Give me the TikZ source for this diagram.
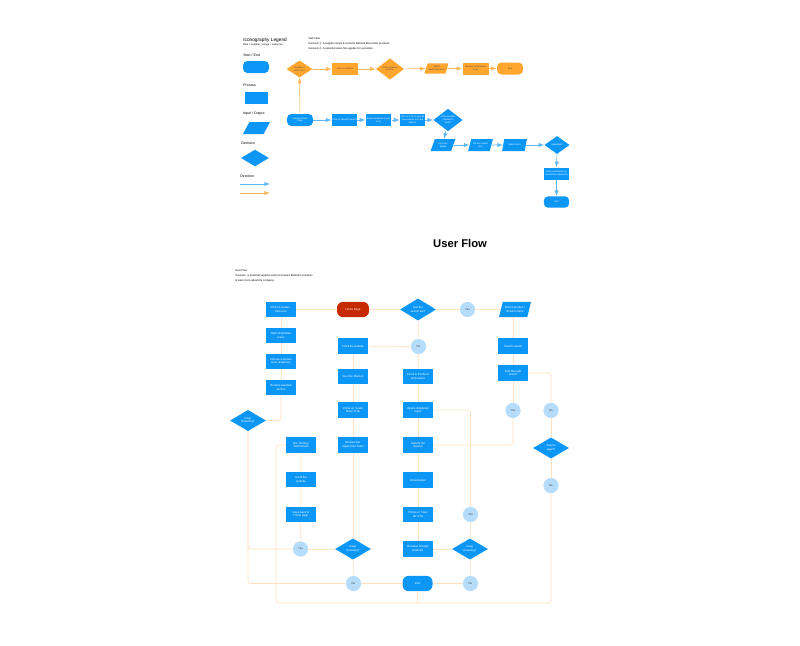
\documentclass[tikz,border=0pt]{standalone}
\usepackage{fontspec}
\setmainfont{Liberation Sans}
\usetikzlibrary{shapes.geometric, arrows, positioning, calc}

\definecolor{flowblue}{HTML}{0C97F7}
\definecolor{floworange}{HTML}{FFA62E}
\definecolor{homered}{HTML}{C62A02}
\definecolor{answer}{HTML}{B6DCFB}
\definecolor{peach}{HTML}{FFE1BE}
\definecolor{bluelink}{HTML}{5DB6F8}
\definecolor{orangelink}{HTML}{FFC27A}

\newcommand{\boxfont}{\fontsize{2}{2.5}\selectfont}
\newcommand{\smallfont}{\fontsize{1.6}{2}\selectfont}

\begin{document}
\begin{tikzpicture}[x=0.025cm, y=-0.025cm, >=latex,
    proc/.style={rectangle, fill=flowblue, text=white, minimum width=0.75cm, minimum height=0.38cm, inner sep=0.5pt, align=center, font=\boxfont},
    term/.style={rectangle, rounded corners=1.5mm, fill=flowblue, text=white, minimum width=0.75cm, minimum height=0.38cm, inner sep=0.5pt, align=center, font=\boxfont},
    dec/.style={diamond, fill=flowblue, text=white, minimum width=0.9cm, minimum height=0.53cm, inner sep=0.3pt, align=center, font=\boxfont},
    io/.style={trapezium, trapezium left angle=65, trapezium right angle=115, trapezium stretches=true, fill=flowblue, text=white, minimum width=0.8cm, minimum height=0.38cm, inner sep=0.5pt, align=center, font=\boxfont},
    ans/.style={circle, fill=answer, text=black!75, minimum size=0.38cm, inner sep=0pt, font=\boxfont},
    link/.style={draw=peach, line width=0.5pt, rounded corners=2pt},
    bluearrow/.style={->, draw=bluelink, line width=0.4pt},
    orangearrow/.style={->, draw=floworange!80, line width=0.4pt},
    orangenode/.style={fill=floworange, text=black!70, font=\smallfont}]

    \useasboundingbox[fill=white] (0,0) rectangle (800,645);

    % legend
    \node[anchor=west, inner sep=0pt, font=\fontsize{3.4}{4}\selectfont] (legtitle) at (243,40) {Iconography Legend};
    \node[anchor=west, inner sep=0pt, font=\fontsize{1.8}{2.2}\selectfont] (legsub) at (243,45) {Blue = supplier, orange = sales hire};
    \node[anchor=west, inner sep=0pt, font=\fontsize{2.5}{3}\selectfont] (legterm) at (243,55) {Start / End};
    \node[term, minimum width=0.65cm, minimum height=0.3cm, rounded corners=1.1mm] (termicon) at (256,67) {};
    \node[anchor=west, inner sep=0pt, font=\fontsize{2.5}{3}\selectfont] (legproc) at (243,85) {Process};
    \node[proc, minimum width=0.58cm, minimum height=0.3cm] (procicon) at (256.5,98) {};
    \node[anchor=west, inner sep=0pt, font=\fontsize{2.5}{3}\selectfont] (legio) at (243,114) {Input / Output};
    \node[io, minimum width=0.68cm, minimum height=0.3cm] (ioicon) at (256.5,128) {};
    \node[anchor=west, inner sep=0pt, font=\fontsize{2.5}{3}\selectfont] (legdec) at (241,143) {Decision};
    \node[dec, minimum width=0.7cm, minimum height=0.42cm] (decicon) at (255,158) {};
    \node[anchor=west, inner sep=0pt, font=\fontsize{2.5}{3}\selectfont] (legdir) at (240,176) {Direction};
    \coordinate (dirblueA) at (240,184);
    \coordinate (dirblueB) at (270,184);
    \coordinate (dirorangeA) at (240,193);
    \coordinate (dirorangeB) at (270,193);
    \draw[bluearrow] (dirblueA) -- (dirblueB);
    \draw[orangearrow] (dirorangeA) -- (dirorangeB);

    % task flow
    \node[anchor=west, inner sep=0pt, align=left, font=\fontsize{1.9}{3.6}\selectfont] (tasktext) at (308,44)
        {Task Flow\\Scenario 1: A supplier views \& contacts Bahnek about their products.\\Scenario 2: A potential sales hire applies for a position.};

    % orange row
    \node[dec, orangenode, minimum width=0.65cm, minimum height=0.4cm] (osales) at (299.5,69) {Supplier or\\sales hire?};
    \node[proc, orangenode, minimum width=0.65cm, minimum height=0.3cm] (ocareers) at (345,69) {Click on Careers};
    \node[dec, orangenode, minimum width=0.7cm, minimum height=0.45cm] (oposition) at (390,69) {Find a relevant\\position};
    \node[io, orangenode, minimum width=0.6cm, minimum height=0.26cm] (osubmit) at (436.5,68.5) {Submit\\application form};
    \node[proc, orangenode, minimum width=0.65cm, minimum height=0.3cm] (oconfirm) at (475.5,68.5) {Receive confirmation\\email};
    \node[term, orangenode, minimum width=0.65cm, minimum height=0.3cm, rounded corners=1.1mm] (oend) at (510,68.5) {End};
    \draw[orangearrow] (osales) -- (ocareers);
    \draw[orangearrow] (ocareers) -- (oposition);
    \draw[orangearrow] (oposition) -- (osubmit);
    \draw[orangearrow] (osubmit) -- (oconfirm);
    \draw[orangearrow] (oconfirm) -- (oend);

    % blue row
    \node[term, font=\smallfont, minimum width=0.65cm, minimum height=0.3cm, rounded corners=1.1mm] (bstart) at (300,120) {Land on Home\\Page};
    \node[proc, font=\smallfont, minimum width=0.63cm, minimum height=0.3cm] (babout) at (344.5,120) {Click on About/Products};
    \node[proc, font=\smallfont, minimum width=0.63cm, minimum height=0.3cm] (bbrowse) at (378.5,120) {Browse products \& solu-\\tions};
    \node[proc, font=\smallfont, minimum width=0.63cm, minimum height=0.3cm] (bcta) at (412.5,120) {Click on CTA to view all\\the products from the\\division};
    \node[dec, font=\smallfont, minimum width=0.73cm, minimum height=0.5cm] (brelevant) at (448,120) {Is the product\\relevant to\\them?};
    \node[io, font=\smallfont, minimum width=0.62cm, minimum height=0.3cm] (bdetails) at (443,145) {Fill in the\\details};
    \node[io, font=\smallfont, minimum width=0.62cm, minimum height=0.3cm] (bform) at (480.5,145) {Fill the contact\\form};
    \node[io, font=\smallfont, minimum width=0.62cm, minimum height=0.3cm] (bsend) at (514.5,145) {Submit form};
    \node[dec, font=\smallfont, minimum width=0.63cm, minimum height=0.45cm] (bsubmitted) at (557,145) {Submitted?};
    \node[proc, font=\smallfont, minimum width=0.63cm, minimum height=0.3cm] (bconfirm) at (556.5,173.5) {Gets confirmation on\\successful submission};
    \node[term, font=\smallfont, minimum width=0.63cm, minimum height=0.28cm, rounded corners=1mm] (bend) at (556.5,202) {End};
    \draw[orangearrow] (bstart) -- (osales);
    \draw[bluearrow] (bstart) -- (babout);
    \draw[bluearrow] (babout) -- (bbrowse);
    \draw[bluearrow] (bbrowse) -- (bcta);
    \draw[bluearrow] (bcta) -- (brelevant);
    \draw[bluearrow] (brelevant) -- (bdetails);
    \draw[bluearrow] (bdetails) -- (bform);
    \draw[bluearrow] (bform) -- (bsend);
    \draw[bluearrow] (bsend) -- (bsubmitted);
    \draw[bluearrow] (bsubmitted) -- (bconfirm);
    \draw[bluearrow] (bconfirm) -- (bend);

    % user flow
    \node[inner sep=0pt, font=\fontsize{8}{9}\selectfont\bfseries] (title) at (460,243) {User Flow};
    \node[anchor=west, inner sep=0pt, align=left, font=\fontsize{1.9}{3.6}\selectfont] (usertext) at (235,276)
        {User Flow\\Scenario: a potential supplier wants to browse Bahnek's products\\\& learn more about the company.};

    \node[term, fill=homered, minimum width=0.8cm] (home) at (353,309.5) {Home Page};
    \node[proc] (header) at (281,309.5) {Click on header -\\About Us};
    \node[dec] (usesearch) at (418,309.5) {Use the\\search bar?};
    \node[ans] (yessearch) at (467.5,309.5) {Yes};
    \node[io] (enters) at (515,309.5) {Enters product /\\division name};
    \node[proc] (dropdown) at (281,335.5) {Open dropdown\\menu};
    \node[proc] (choose) at (281,361.5) {Choose a section\\from dropdown};
    \node[proc] (browsesel) at (281,387.5) {Browse selected\\section};
    \node[dec] (keepone) at (248,420.5) {Keep\\browsing?};
    \node[proc] (scrollone) at (353,346) {Scroll the website};
    \node[ans] (nosearch) at (418.5,346.5) {No};
    \node[proc] (mission) at (353,376.5) {See Our Mission};
    \node[proc] (learn) at (353,410) {Clicks on “Learn\\More” CTA};
    \node[proc] (products) at (418,376.5) {Scroll to Products\\\& Divisions};
    \node[proc] (opens) at (418,410) {Opens dropdown\\menu};
    \node[proc] (results) at (513,346) {Search results};
    \node[proc] (findres) at (513,373) {Find the right\\result?};
    \node[ans] (yesres) at (513,410.5) {Yes};
    \node[ans] (nores) at (551,410.5) {No};
    \node[proc] (journey) at (301,445) {Our Journey,\\Testimonials};
    \node[proc] (impact) at (353,445) {Browse Our\\Impact Our Team};
    \node[proc] (selects) at (418,445) {Selects the\\division};
    \node[dec] (again) at (551,448) {Search\\again?};
    \node[proc] (scrolltwo) at (301,479.5) {Scroll the\\website};
    \node[proc] (viewdiv) at (418,480) {View division};
    \node[ans] (noagain) at (551,485.5) {No};
    \node[proc] (goback) at (301,514.5) {Goes back to\\Home page};
    \node[proc] (viewall) at (418,514.5) {Clicks on “View\\all” CTA};
    \node[ans] (yesthree) at (470.5,514.5) {Yes};
    \node[ans] (yestwo) at (300.5,549) {Yes};
    \node[dec] (keeptwo) at (353,549) {Keep\\browsing?};
    \node[proc] (browseprod) at (418,549) {Browses through\\products};
    \node[dec] (keepthree) at (470,549) {Keep\\browsing?};
    \node[ans] (notwo) at (353.5,583.5) {No};
    \node[term] (userend) at (417.5,583.5) {End};
    \node[ans] (nothree) at (470.5,583.5) {No};
    \coordinate (loopleft) at (276,603);

    % connectors
    \draw[link] (home) -- (header);
    \draw[link] (home) -- (usesearch);
    \draw[link] (usesearch) -- (yessearch) -- (enters);
    \draw[link] (usesearch) -- (nosearch) -- (products);
    \draw[link] (nosearch) -- (scrollone);
    \draw[link] (header) -- (dropdown) -- (choose) -- (browsesel);
    \draw[link] (browsesel.south) |- (keepone.east);
    \draw[link] (keepone.south) |- (yestwo.west);
    \draw[link] (keepone.south) |- (notwo.west);
    \draw[link] (yestwo) -- (keeptwo);
    \draw[link] (yestwo) -- (goback) -- (scrolltwo) -- (journey);
    \draw[link] (journey.west) -| (loopleft) -| (noagain.south);
    \draw[link] (userend.south) -- (userend.south |- loopleft);
    \draw[link] (scrollone) -- (mission) -- (learn) -- (impact) -- (keeptwo);
    \draw[link] (keeptwo) -- (notwo) -- (userend);
    \draw[link] (nothree) -- (userend);
    \draw[link] (keepthree) -- (nothree);
    \draw[link] (products) -- (opens) -- (selects) -- (viewdiv) -- (viewall) -- (browseprod) -- (keepthree);
    \draw[link] (opens.east) -| (yesthree.north);
    \draw[link] (yesthree) -- (keepthree);
    \draw[link] (results.north |- enters.south) -- (results.north);
    \draw[link] (results) -- (findres) -- (yesres);
    \draw[link] (findres.east) -| (nores.north);
    \draw[link] (yesres.south) |- (selects.east);
    \draw[link] (nores) -- (again) -- (noagain);
\end{tikzpicture}
\end{document}
